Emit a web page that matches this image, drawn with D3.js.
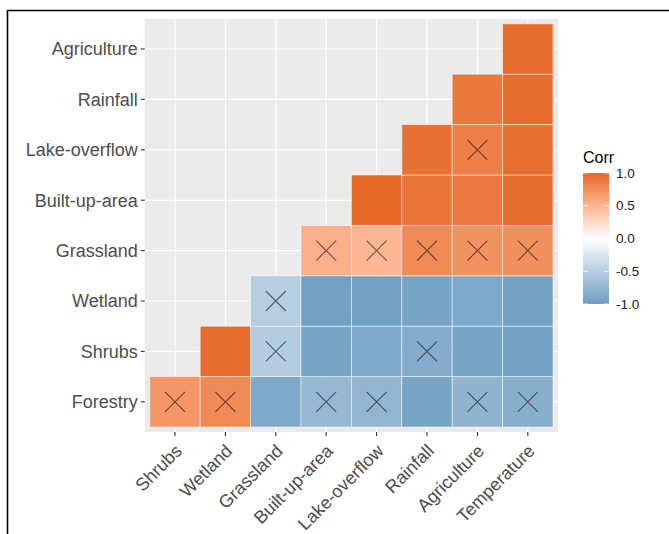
<!DOCTYPE html>
<html><head><meta charset="utf-8">
<script src="https://cdn.jsdelivr.net/npm/d3@7"></script>
<style>body{margin:0;background:#fff}svg{display:block}text{font-family:"Liberation Sans",Arial,sans-serif}</style>
</head><body>
<svg id="c" width="669" height="534"></svg>
<script>
// x categories (left to right) and y categories (bottom to top)
const xVars = ["Shrubs","Wetland","Grassland","Built-up-area","Lake-overflow","Rainfall","Agriculture","Temperature"];
const yVars = ["Forestry","Shrubs","Wetland","Grassland","Built-up-area","Lake-overflow","Rainfall","Agriculture"];
// correlation values per row (row i covers xVars[i..7])
const rowForestry     = [0.70, 0.78, -0.88, -0.72, -0.75, -0.93, -0.77, -0.82];
const rowShrubs       = [0.96, -0.52, -0.93, -0.88, -0.84, -0.93, -0.96];
const rowWetland      = [-0.50, -0.97, -0.97, -0.93, -0.88, -0.95];
const rowGrassland    = [0.53, 0.48, 0.78, 0.72, 0.73];
const rowBuiltUp      = [0.99, 0.92, 0.88, 0.96];
const rowLakeOverflow = [0.93, 0.84, 0.95];
const rowRainfall     = [0.90, 0.96];
const rowAgriculture  = [0.97];
// insignificant (crossed) flags, same layout
const insForestry     = [1,1,0,1,1,0,1,1];
const insShrubs       = [0,1,0,0,1,0,0];
const insWetland      = [1,0,0,0,0,0];
const insGrassland    = [1,1,1,1,1];
const insBuiltUp      = [0,0,0,0];
const insLakeOverflow = [0,1,0];
const insRainfall     = [0,0];
const insAgriculture  = [0];
const legendTicks = [1.0, 0.5, 0.0, -0.5, -1.0];
const legendLabels = ["1.0", "0.5", "0.0", "-0.5", "-1.0"];

const rows = [rowForestry,rowShrubs,rowWetland,rowGrassland,rowBuiltUp,rowLakeOverflow,rowRainfall,rowAgriculture];
const ins = [insForestry,insShrubs,insWetland,insGrassland,insBuiltUp,insLakeOverflow,insRainfall,insAgriculture];
const cells = [];
rows.forEach((r,i)=>r.forEach((v,k)=>cells.push({x:xVars[i+k], y:yVars[i], v, ins:ins[i][k]})));

const svg = d3.select("#c");
// frame
svg.append("line").attr("x1",7).attr("x2",669).attr("y1",10.5).attr("y2",10.5).attr("stroke","#000").attr("stroke-width",1.6);
svg.append("line").attr("x1",7.5).attr("x2",7.5).attr("y1",10).attr("y2",534).attr("stroke","#000").attr("stroke-width",1.6);

const step = 50.4;
const x = d3.scaleBand().domain(xVars).range([149.8, 149.8 + 8*step]);
const y = d3.scaleBand().domain(yVars.slice().reverse()).range([23.8, 23.8 + 8*step]);
const pad = 0.1*step;
const px0 = x.range()[0]-pad, px1 = x.range()[1]+pad, py0 = y.range()[0]-pad, py1 = y.range()[1]+pad;

const color = d3.scaleLinear().domain([-1,0,1]).range(["#6D9EC1","#FFFFFF","#E46726"]).interpolate(d3.interpolateLab);

svg.append("rect").attr("x",px0).attr("y",py0).attr("width",px1-px0).attr("height",py1-py0).attr("fill","#EBEBEB");
const g = svg.append("g");
g.selectAll(".gx").data(xVars).join("line").attr("x1",d=>x(d)+x.bandwidth()/2).attr("x2",d=>x(d)+x.bandwidth()/2)
  .attr("y1",py0).attr("y2",py1).attr("stroke","#fff").attr("stroke-width",1.1);
g.selectAll(".gy").data(yVars).join("line").attr("y1",d=>y(d)+y.bandwidth()/2).attr("y2",d=>y(d)+y.bandwidth()/2)
  .attr("x1",px0).attr("x2",px1).attr("stroke","#fff").attr("stroke-width",1.1);

svg.append("g").selectAll("rect").data(cells).join("rect")
  .attr("x",d=>x(d.x)).attr("y",d=>y(d.y)).attr("width",x.bandwidth()).attr("height",y.bandwidth())
  .attr("fill",d=>color(d.v)).attr("stroke","rgba(255,255,255,0.55)").attr("stroke-width",0.9);

const h = 10;
svg.append("g").selectAll("path").data(cells.filter(d=>d.ins)).join("path")
  .attr("d",d=>{const cx=x(d.x)+x.bandwidth()/2, cy=y(d.y)+y.bandwidth()/2;
    return `M${cx-h},${cy-h}L${cx+h},${cy+h}M${cx-h},${cy+h}L${cx+h},${cy-h}`;})
  .attr("stroke","rgba(0,0,0,0.55)").attr("stroke-width",1.1).attr("fill","none");

// axes
const yAxis = d3.axisLeft(y).tickSize(4).tickPadding(3);
const ya = svg.append("g").attr("transform",`translate(${px0},0)`).call(yAxis);
ya.select(".domain").remove();
ya.selectAll("line").attr("stroke","#333").attr("stroke-width",1.1);
ya.selectAll("text").attr("fill","#4D4D4D").attr("font-size",18).attr("dy","0.35em");

const xAxis = d3.axisBottom(x).tickSize(4).tickPadding(3);
const xa = svg.append("g").attr("transform",`translate(0,${py1})`).call(xAxis);
xa.select(".domain").remove();
xa.selectAll("line").attr("stroke","#333").attr("stroke-width",1.1);
xa.selectAll("text").attr("fill","#4D4D4D").attr("font-size",18)
  .attr("text-anchor","end").attr("y",0).attr("dy",0)
  .attr("transform","translate(8,20) rotate(-45)");

// legend
const lx = 583, ly0 = 173, ly1 = 304, lw = 26;
svg.append("text").attr("x",lx).attr("y",163).attr("font-size",16).attr("fill","#000").text("Corr");
const defs = svg.append("defs");
const grad = defs.append("linearGradient").attr("id","lg").attr("x1",0).attr("x2",0).attr("y1",0).attr("y2",1);
d3.range(0,21).forEach(i=>{const v=1-i/10; grad.append("stop").attr("offset",(i/20)).attr("stop-color",color(v));});
svg.append("rect").attr("x",lx).attr("y",ly0).attr("width",lw).attr("height",ly1-ly0).attr("fill","url(#lg)");
const ls = d3.scaleLinear().domain([1,-1]).range([ly0, ly1]);
legendTicks.forEach((t,i)=>{
  svg.append("line").attr("x1",lx).attr("x2",lx+5).attr("y1",ls(t)).attr("y2",ls(t)).attr("stroke","#fff").attr("stroke-opacity",0.8);
  svg.append("line").attr("x1",lx+lw-5).attr("x2",lx+lw).attr("y1",ls(t)).attr("y2",ls(t)).attr("stroke","#fff").attr("stroke-opacity",0.8);
  svg.append("text").attr("x",lx+lw+7).attr("y",ls(t)).attr("dy","0.35em").attr("font-size",13.5).attr("fill","#1a1a1a").text(legendLabels[i]);
});
</script>
</body></html>
